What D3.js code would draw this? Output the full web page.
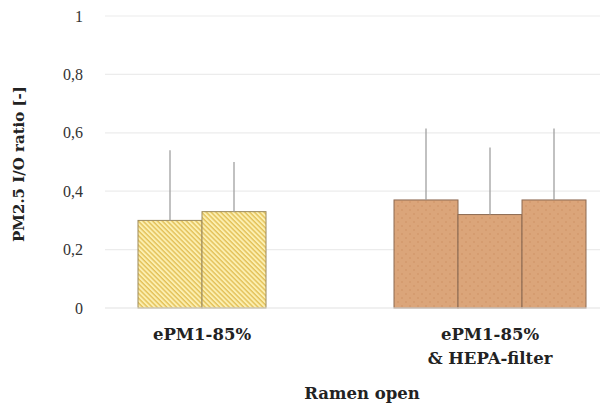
<!DOCTYPE html>
<html>
<head>
<meta charset="utf-8">
<script src="https://cdn.jsdelivr.net/npm/d3@7"></script>
<style>
  html, body { margin: 0; padding: 0; background: #fff; }
  svg { display: block; }
</style>
</head>
<body>
<svg id="chart" width="616" height="408"></svg>
<script>
// PM2.5 indoor/outdoor ratio per measurement, grouped by filter setup
const groups = ["ePM1-85%", "ePM1-85%\n& HEPA-filter"];
const groupSizes = [2, 3];
const ratioValues = [[0.30, 0.33], [0.37, 0.32, 0.37]];
const errorTops = [[0.54, 0.50], [0.615, 0.55, 0.615]];
const yTicks = [0, 0.2, 0.4, 0.6, 0.8, 1];
const xTitle = "Ramen open";
const yTitle = "PM2.5 I/O ratio [-]";

const svg = d3.select("#chart");
const margin = { left: 105, right: 16, top: 16, bottom: 100 };
const W = 616, H = 408;
const plotH = H - margin.top - margin.bottom;

const y = d3.scaleLinear().domain([0, 1]).range([margin.top + plotH, margin.top]);
// group centres along the category axis
const xGroup = d3.scalePoint().domain(groups).range([202, 490]);

const serif = "'DejaVu Serif', 'Liberation Serif', serif";
const tickFont = "'Liberation Serif', 'DejaVu Serif', serif";

// Hatch and dot patterns
const defs = svg.append("defs");
const hatch = defs.append("pattern")
  .attr("id", "hatch").attr("patternUnits", "userSpaceOnUse")
  .attr("width", 3.4).attr("height", 3.4)
  .attr("patternTransform", "rotate(45)");
hatch.append("rect").attr("width", 3.4).attr("height", 3.4).attr("fill", "#fcefb0");
hatch.append("rect").attr("width", 3.4).attr("height", 1.4).attr("fill", "#e3c057");

const dots = defs.append("pattern")
  .attr("id", "dots").attr("patternUnits", "userSpaceOnUse")
  .attr("width", 8).attr("height", 8);
dots.append("rect").attr("width", 8).attr("height", 8).attr("fill", "#dba57a");
dots.append("circle").attr("cx", 2).attr("cy", 2).attr("r", 1).attr("fill", "#d3996c");
dots.append("circle").attr("cx", 6).attr("cy", 6).attr("r", 1).attr("fill", "#d3996c");

// Gridlines
svg.append("g").selectAll("line").data(yTicks.filter(t => t > 0)).join("line")
  .attr("x1", margin.left).attr("x2", W - margin.right)
  .attr("y1", d => y(d)).attr("y2", d => y(d))
  .attr("stroke", "#ececec").attr("stroke-width", 1.2);

// Y axis labels
const yAxis = d3.axisLeft(y).tickValues(yTicks)
  .tickFormat(d => String(d).replace(".", ","))
  .tickSize(0).tickPadding(0);
const yg = svg.append("g").attr("transform", `translate(83,0)`).call(yAxis);
yg.select(".domain").remove();
yg.selectAll("text").attr("font-family", tickFont).attr("font-size", 16).attr("fill", "#333");

// Bars
const barW = 64;
const fills = ["url(#hatch)", "url(#dots)"];
const strokes = ["#9c8a5c", "#8c6a52"];
groups.forEach((g, gi) => {
  const n = groupSizes[gi];
  const cx = xGroup(g);
  const xs = d3.scaleBand().domain(d3.range(n)).range([cx - n * barW / 2, cx + n * barW / 2]);
  const gg = svg.append("g");
  gg.selectAll("rect").data(ratioValues[gi]).join("rect")
    .attr("x", (d, i) => xs(i)).attr("width", xs.bandwidth())
    .attr("y", d => y(d)).attr("height", d => y(0) - y(d))
    .attr("fill", fills[gi]).attr("stroke", strokes[gi]).attr("stroke-width", 1);
  gg.selectAll("line.err").data(ratioValues[gi]).join("line").attr("class", "err")
    .attr("x1", (d, i) => xs(i) + xs.bandwidth() / 2).attr("x2", (d, i) => xs(i) + xs.bandwidth() / 2)
    .attr("y1", d => y(d)).attr("y2", (d, i) => y(errorTops[gi][i]))
    .attr("stroke", "#a0a0a0").attr("stroke-width", 1.3);

  // Category label
  const lines = g.split("\n");
  const t = svg.append("text").attr("x", cx).attr("y", 340)
    .attr("text-anchor", "middle").attr("font-family", serif)
    .attr("font-weight", "bold").attr("font-size", 16.5).attr("fill", "#222");
  lines.forEach((ln, li) => t.append("tspan").attr("x", cx).attr("dy", li === 0 ? 0 : 24).text(ln));
});

// Baseline
svg.append("line").attr("x1", margin.left).attr("x2", W - margin.right)
  .attr("y1", y(0)).attr("y2", y(0)).attr("stroke", "#e2e2e2").attr("stroke-width", 1.2);

// Axis titles
svg.append("text").attr("x", 362).attr("y", 399).attr("text-anchor", "middle")
  .attr("font-family", serif).attr("font-weight", "bold").attr("font-size", 16.5).attr("fill", "#222")
  .text(xTitle);
svg.append("text").attr("transform", `translate(24,164) rotate(-90)`).attr("text-anchor", "middle")
  .attr("font-family", serif).attr("font-weight", "bold").attr("font-size", 15).attr("fill", "#222")
  .text(yTitle);
</script>
</body>
</html>
